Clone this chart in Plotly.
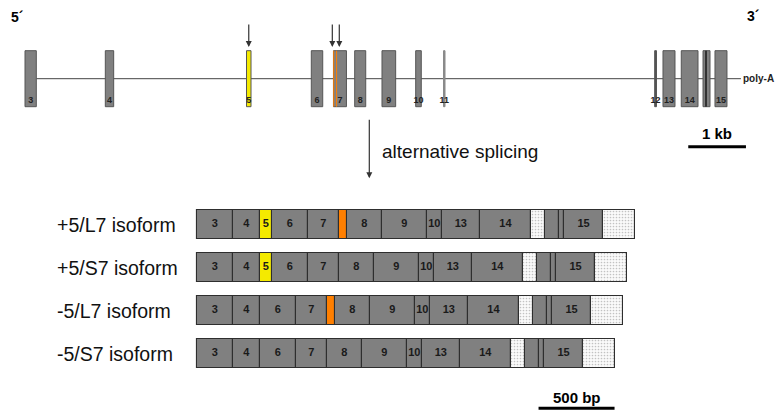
import plotly.graph_objects as go

# ---------------- data ----------------
# genomic map (bp from start of exon 3)
gene_exon_names = ["3", "4", "5", "6", "7", "8", "9", "10", "11", "12", "13", "14", "", "15"]
gene_exon_start = [0, 1392, 3839, 4962, 5346, 5714, 6187, 6771, 7253, 10913, 11057, 11374, 11751, 11958]
gene_exon_end = [196, 1537, 3917, 5160, 5571, 5905, 6424, 6868, 7279, 10944, 11265, 11664, 11872, 12166]
gene_exon_kind = ["exon", "exon", "alt5", "exon", "exon", "exon", "exon", "exon", "thin", "dark", "exon", "exon", "exon", "exon"]
gene_inner_line_bp = [11802]            # dark line inside the unlabeled exon
alt7_region_bp = [5350, 5400]           # alternative region inside exon 7
splice_arrow_bp = [3878, 5326, 5447]    # arrows above exons 5 and 7
gene_end_bp = 12408                     # poly-A

# mRNA segments (bp)
seg_names = ["3", "4", "5", "6", "7", "7L", "8", "9", "10", "13", "14", "u1", "g", "s", "15", "u3"]
seg_len = [237, 178, 79, 237, 204, 53, 230, 296, 99, 250, 336, 92, 95, 33, 253, 214]
seg_label = ["3", "4", "5", "6", "7", "", "8", "9", "10", "13", "14", "", "", "", "15", ""]
seg_kind = ["exon", "exon", "alt5", "exon", "exon", "alt7", "exon", "exon", "exon", "exon", "exon", "utr", "exon", "exon", "exon", "utr"]

isoform_names = ["+5/L7 isoform", "+5/S7 isoform", "-5/L7 isoform", "-5/S7 isoform"]
isoform_has5 = [True, True, False, False]
isoform_hasL7 = [True, False, True, False]

# ---------------- layout constants (pixels) ----------------
W, H = 778, 412
GENE_X0_PX, GENE_PX_PER_BP = 25.0, 0.0577
MRNA_X0_PX, MRNA_PX_PER_BP = 196.7, 0.152
GENE_TOP, GENE_BOT, GENE_MID = 50.7, 106.7, 78.7
ROW_Y = [224.7, 267.7, 310.6, 353.7]
ROW_H = 29

GREY = "#808080"
YELLOW = "#f4ea00"
ORANGE = "#ff7f00"
FONT = "Liberation Sans, Arial, sans-serif"

def px_range(x0, scale):
    return [-x0 / scale, (W - x0) / scale]

fig = go.Figure()
shapes = []
annotations = []

# ---- gene map ----
shapes.append(dict(type="line", xref="x", yref="y", x0=gene_exon_end[0], x1=gene_end_bp,
                   y0=GENE_MID, y1=GENE_MID, line=dict(color="#444", width=1), layer="below"))
for name, s, e, k in zip(gene_exon_names, gene_exon_start, gene_exon_end, gene_exon_kind):
    if k == "alt5":
        fill, lc = YELLOW, "#555"
    elif k == "thin":
        fill, lc = "#8a8a8a", "#8a8a8a"
    elif k == "dark":
        fill, lc = "#555", "#555"
    else:
        fill, lc = GREY, "#555"
    shapes.append(dict(type="rect", xref="x", yref="y", x0=s, x1=e, y0=GENE_TOP, y1=GENE_BOT,
                       fillcolor=fill, line=dict(color=lc, width=1), layer="below"))
for b in gene_inner_line_bp:
    shapes.append(dict(type="line", xref="x", yref="y", x0=b, x1=b, y0=GENE_TOP, y1=GENE_BOT,
                       line=dict(color="#333", width=2), layer="below"))
for b in alt7_region_bp:
    shapes.append(dict(type="line", xref="x", yref="y", x0=b, x1=b, y0=GENE_TOP, y1=GENE_BOT,
                       line=dict(color=ORANGE, width=1), layer="below"))

lab_x = [(s + e) / 2 for s, e, n in zip(gene_exon_start, gene_exon_end, gene_exon_names) if n]
lab_t = ["<b>%s</b>" % n for n in gene_exon_names if n]
fig.add_trace(go.Scatter(x=lab_x, y=[100.5] * len(lab_x), mode="text", text=lab_t,
                         textfont=dict(family=FONT, size=9, color="#222"),
                         xaxis="x", yaxis="y", hoverinfo="skip", showlegend=False))

for b in splice_arrow_bp:
    annotations.append(dict(x=b, y=47, xref="x", yref="y", ax=0, ay=-24, text="",
                            showarrow=True, arrowhead=2, arrowsize=1, arrowwidth=1.2,
                            arrowcolor="#333"))

annotations.append(dict(x=gene_end_bp, y=GENE_MID, xref="x", yref="y", text="<b>poly-A</b>",
                        showarrow=False, xanchor="left", xshift=0,
                        font=dict(family=FONT, size=10, color="#222")))

# 1 kb scale bar
kb0 = 11495
shapes.append(dict(type="line", xref="x", yref="y", x0=kb0, x1=kb0 + 1000, y0=146.7, y1=146.7,
                   line=dict(color="black", width=3)))
annotations.append(dict(x=kb0 + 500, y=133, xref="x", yref="y", text="<b>1 kb</b>",
                        showarrow=False, font=dict(family=FONT, size=15, color="black")))

# 5' / 3'
annotations.append(dict(x=9 / W, y=17, xref="paper", yref="y", text="<b>5´</b>", showarrow=False,
                        xanchor="left", font=dict(family=FONT, size=14, color="black")))
annotations.append(dict(x=745 / W, y=16, xref="paper", yref="y", text="<b>3´</b>", showarrow=False,
                        xanchor="left", font=dict(family=FONT, size=14, color="black")))

# alternative splicing arrow
annotations.append(dict(x=369.3 / W, y=178.3, xref="paper", yref="y", ax=0, ay=-60, text="",
                        showarrow=True, arrowhead=2, arrowsize=1, arrowwidth=1.2, arrowcolor="#333"))
annotations.append(dict(x=380 / W, y=151.7, xref="paper", yref="y", text="alternative splicing",
                        showarrow=False, xanchor="left",
                        font=dict(family=FONT, size=19, color="#111")))

# ---- isoforms ----
bars = {"exon": ([], [], []), "alt5": ([], [], []), "alt7": ([], [], []), "utr": ([], [], [])}
tx, ty, tt = [], [], []
for iname, has5, hasL, yc in zip(isoform_names, isoform_has5, isoform_hasL7, ROW_Y):
    pos = 0
    for n, L, lab, k in zip(seg_names, seg_len, seg_label, seg_kind):
        if n == "5" and not has5:
            continue
        if n == "7L" and not hasL:
            continue
        bx, bb, by = bars[k]
        bx.append(L); bb.append(pos); by.append(yc)
        if lab:
            tx.append(pos + L / 2); ty.append(yc); tt.append("<b>%s</b>" % lab)
        pos += L
    annotations.append(dict(x=55 / W, y=yc, xref="paper", yref="y", text=iname, showarrow=False,
                            xanchor="left", font=dict(family=FONT, size=19.5, color="#111")))

styles = {
    "exon": dict(color=GREY),
    "alt5": dict(color=YELLOW),
    "alt7": dict(color=ORANGE),
    "utr": dict(color="white", pattern=dict(shape=".", fgcolor="#8a8a8a", bgcolor="#fafafa",
                                            size=3, solidity=0.25)),
}
for k, (bx, bb, by) in bars.items():
    m = dict(styles[k])
    m["line"] = dict(color="#2e2e2e", width=1.1)
    fig.add_trace(go.Bar(x=bx, base=bb, y=by, orientation="h", width=ROW_H, marker=m,
                         xaxis="x2", yaxis="y", hoverinfo="skip", showlegend=False))

fig.add_trace(go.Scatter(x=tx, y=ty, mode="text", text=tt,
                         textfont=dict(family=FONT, size=11, color="#1a1a1a"),
                         xaxis="x2", yaxis="y", hoverinfo="skip", showlegend=False))

# 500 bp scale bar
sb0 = 2249
shapes.append(dict(type="line", xref="x2", yref="y", x0=sb0, x1=sb0 + 500, y0=408.3, y1=408.3,
                   line=dict(color="black", width=3)))
annotations.append(dict(x=sb0 + 250, y=397.5, xref="x2", yref="y", text="<b>500 bp</b>",
                        showarrow=False, font=dict(family=FONT, size=15, color="black")))

fig.update_layout(
    width=W, height=H, margin=dict(l=0, r=0, t=0, b=0),
    paper_bgcolor="white", plot_bgcolor="white",
    barmode="overlay", bargap=0,
    xaxis=dict(range=px_range(GENE_X0_PX, GENE_PX_PER_BP), visible=False, fixedrange=True),
    xaxis2=dict(range=px_range(MRNA_X0_PX, MRNA_PX_PER_BP), visible=False, overlaying="x",
                anchor="y", fixedrange=True),
    yaxis=dict(range=[H, 0], visible=False, fixedrange=True),
    shapes=shapes, annotations=annotations, showlegend=False,
)

fig.write_html("out.html", config={"displayModeBar": False},
               post_script="document.body.style.margin='0';document.body.style.overflow='hidden';")
